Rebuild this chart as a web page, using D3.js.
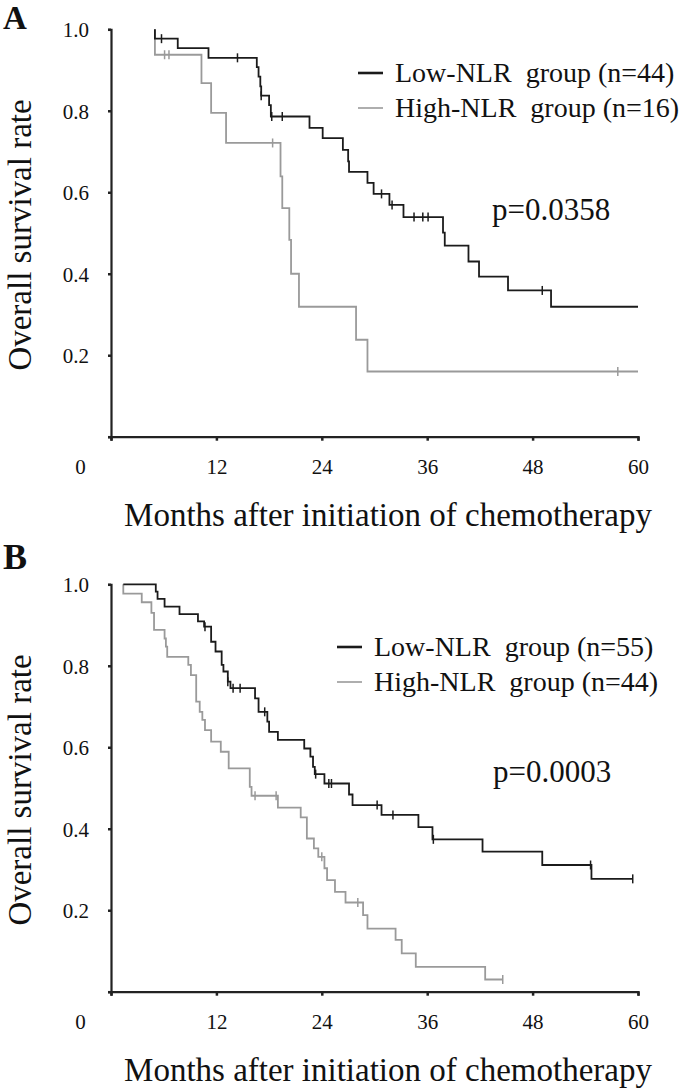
<!DOCTYPE html>
<html lang="en">
<head>
<meta charset="UTF-8">
<title>Overall survival by NLR group</title>
<script src="https://d3js.org/d3.v7.min.js"></script>
<style>
    body { margin: 0; background: #fff; }
</style>
</head>
<body>
<script>
    // ---- data ----
    // steps: [month, survival after that time]; last entry = end of follow-up
    var lowA = [[5.0,1.0],[5.0,0.977],[7.6,0.954],[11.1,0.930],[16.6,0.907],[16.8,0.884],[17.0,0.86],[17.1,0.837],
        [18.0,0.814],[18.2,0.786],[22.6,0.758],[24.1,0.733],[26.4,0.704],[27.0,0.676],[27.1,0.650],[29.2,0.623],
        [29.9,0.596],[31.7,0.569],[33.3,0.539],[37.8,0.501],[38.0,0.469],[40.7,0.430],[41.9,0.393],[45.2,0.359],
        [50.1,0.319],[60,0.319]];
    var lowA_cens = [5.75, 14.4, 17.1, 18.3, 19.5, 30.8, 32.0, 34.5, 35.5, 36.1, 49.1];
    var highA = [[5.0,1.0],[5.0,0.9375],[10.3,0.868],[11.4,0.795],[13.1,0.721],[19.3,0.639],[19.5,0.561],
        [20.3,0.483],[20.5,0.40],[21.4,0.319],[27.9,0.238],[29.2,0.16],[60,0.16]];
    var highA_cens = [6.1, 6.6, 18.4, 57.7];

    var lowB = [[1.4,1.0],[5.1,0.982],[5.3,0.964],[6.1,0.945],[7.8,0.927],[9.9,0.909],[10.6,0.896],[11.4,0.859],
        [11.9,0.835],[12.6,0.802],[12.8,0.786],[13.3,0.761],[13.6,0.745],[16.4,0.72],[16.8,0.687],[17.8,0.663],
        [18.0,0.638],[19.0,0.618],[22.0,0.597],[22.7,0.577],[23.0,0.552],[23.2,0.534],[24.3,0.511],[27.1,0.484],
        [27.5,0.458],[30.8,0.434],[35.0,0.404],[36.6,0.374],[42.3,0.344],[49.1,0.311],[54.7,0.277],[59.4,0.277]];
    var lowB_cens = [10.7, 13.3, 13.9, 14.7, 17.5, 23.3, 24.8, 25.1, 30.3, 32.1, 36.7, 54.6, 59.4];
    var highB = [[1.4,1.0],[1.4,0.977],[3.5,0.956],[4.6,0.93],[4.9,0.888],[6.1,0.867],[6.25,0.847],[6.4,0.822],
        [8.8,0.802],[9.1,0.777],[9.7,0.712],[10.1,0.687],[10.4,0.667],[10.7,0.642],[11.4,0.614],[12.5,0.589],
        [13.4,0.548],[15.8,0.503],[16.0,0.481],[19.0,0.452],[21.6,0.428],[22.3,0.376],[23.1,0.352],[23.6,0.331],
        [24.3,0.303],[24.6,0.274],[25.5,0.245],[26.7,0.219],[28.7,0.188],[29.2,0.155],[32.4,0.127],[33.1,0.094],
        [34.7,0.061],[42.6,0.03],[44.6,0.03]];
    var highB_cens = [16.4, 18.8, 24.0, 28.1, 44.6];

    var xTicks = [0, 12, 24, 36, 48, 60];
    var yTicks = [0, 0.2, 0.4, 0.6, 0.8, 1.0];
    var legendA = ["Low-NLR  group (n=44)", "High-NLR  group (n=16)"];
    var legendB = ["Low-NLR  group (n=55)", "High-NLR  group (n=44)"];
    var pA = "p=0.0358", pB = "p=0.0003";
    var xTitle = "Months after initiation of chemotherapy";
    var yTitle = "Overall survival rate";

    var width = 685, height = 1088;
    var lowColor = "#1b1b1b", highColor = "#9a9a9a";
    var serif = "'Liberation Serif', 'Times New Roman', Times, serif";

    var svg = d3.select("body").append("svg")
        .attr("width", width)
        .attr("height", height)
        .attr("font-family", serif);

    var xScale = d3.scaleLinear().domain([0, 60]).range([111, 638]);
    var yScale = d3.scaleLinear().domain([0, 1]).range([436.7, 29.3]);

    function survAt(steps, t) {
        var s = steps[0][1];
        for (var i = 0; i < steps.length; i++) {
            if (steps[i][0] <= t) s = steps[i][1];
        }
        return s;
    }

    function txt(sel, size) {
        return sel.attr("font-family", serif).style("font-family", serif)
            .style("font-size", size + "px").attr("fill", "#111");
    }

    function drawPanel(g, opt) {
        // axes
        var xAxis = d3.axisBottom(xScale).tickValues(xTicks).tickSize(4).tickFormat(d3.format("d"));
        var yAxis = d3.axisLeft(yScale).tickValues(yTicks).tickSize(3)
            .tickFormat(d => d === 0 ? "" : d3.format(".1f")(d));

        var gx = g.append("g").attr("transform", "translate(0," + yScale(0) + ")").call(xAxis);
        var gy = g.append("g").attr("transform", "translate(" + xScale(0) + ",0)").call(yAxis);
        [gx, gy].forEach(function (a) {
            a.attr("font-family", serif);
            a.select(".domain").attr("stroke", "#222").attr("stroke-width", 2.2);
            a.selectAll(".tick line").attr("stroke", "#222").attr("stroke-width", 2.5);
            txt(a.selectAll(".tick text"), 21);
        });
        gx.selectAll(".tick text").attr("y", 37).attr("dy", 0)
            .attr("dx", d => d === 0 ? -31 : 0);
        gy.selectAll(".tick text").attr("x", -22).attr("dy", "0.35em");

        // curves
        var line = d3.line().x(d => xScale(d[0])).y(d => yScale(d[1])).curve(d3.curveStepAfter);
        var series = [
            { steps: opt.high, cens: opt.highCens, color: highColor },
            { steps: opt.low, cens: opt.lowCens, color: lowColor }
        ];
        series.forEach(function (s) {
            g.append("path")
                .datum(s.steps)
                .attr("d", line)
                .attr("fill", "none")
                .attr("stroke", s.color)
                .attr("stroke-width", 1.8);
            g.selectAll(null)
                .data(s.cens)
                .enter()
                .append("line")
                .attr("x1", d => xScale(d))
                .attr("x2", d => xScale(d))
                .attr("y1", d => yScale(survAt(s.steps, d)) - 4.5)
                .attr("y2", d => yScale(survAt(s.steps, d)) + 4.5)
                .attr("stroke", s.color)
                .attr("stroke-width", 1.5);
        });

        // legend
        var leg = g.append("g");
        [lowColor, highColor].forEach(function (c, i) {
            leg.append("line")
                .attr("x1", opt.legX).attr("x2", opt.legX + 25)
                .attr("y1", opt.legY + i * 35).attr("y2", opt.legY + i * 35)
                .attr("stroke", c).attr("stroke-width", i === 0 ? 2.6 : 1.6);
            txt(leg.append("text"), 28)
                .attr("x", opt.legX + 37)
                .attr("y", opt.legY + 9 + i * 35)
                .style("white-space", "pre")
                .text(opt.legend[i]);
        });

        txt(g.append("text"), 31)
            .attr("x", opt.pX).attr("y", opt.pY)
            .text(opt.p);

        // titles
        txt(g.append("text"), 33)
            .attr("x", 388).attr("y", 526)
            .attr("text-anchor", "middle")
            .text(xTitle);
        txt(g.append("text"), 33)
            .attr("transform", "translate(31,235) rotate(-90)")
            .attr("text-anchor", "middle")
            .text(yTitle);

        txt(g.append("text"), opt.letterSize)
            .attr("x", 3).attr("y", opt.letterY)
            .style("font-weight", "bold")
            .text(opt.letter);
    }

    var gA = svg.append("g");
    drawPanel(gA, {
        low: lowA, lowCens: lowA_cens, high: highA, highCens: highA_cens,
        legend: legendA, legX: 358, legY: 73, p: pA, pX: 492, pY: 220,
        letter: "A", letterY: 29, letterSize: 33
    });

    var gB = svg.append("g").attr("transform", "translate(0,555)");
    drawPanel(gB, {
        low: lowB, lowCens: lowB_cens, high: highB, highCens: highB_cens,
        legend: legendB, legX: 337, legY: 92, p: pB, pX: 493, pY: 227,
        letter: "B", letterY: 14, letterSize: 36
    });
</script>
</body>
</html>
